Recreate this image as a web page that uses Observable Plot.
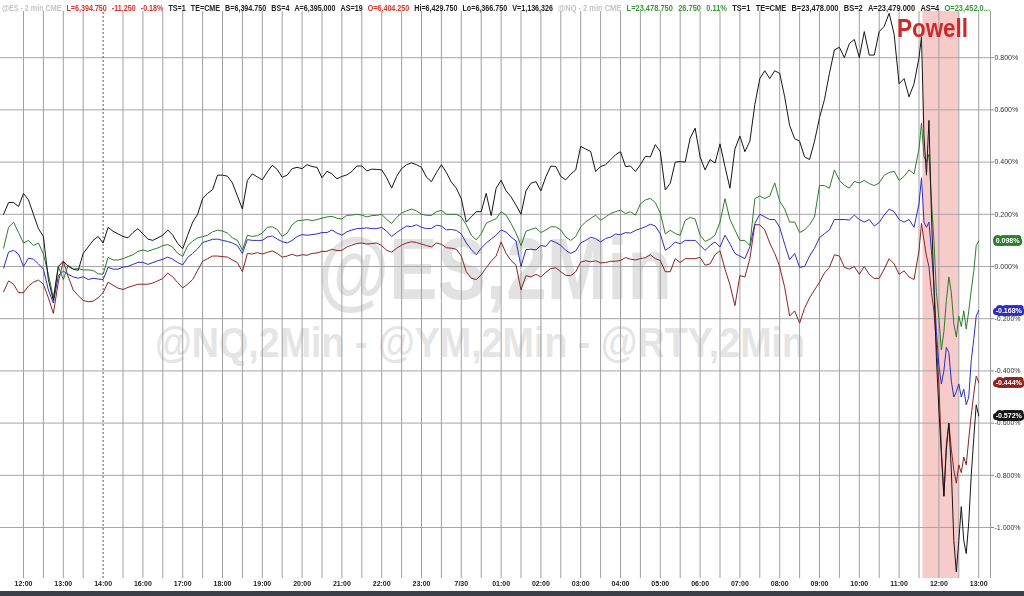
<!DOCTYPE html>
<html><head><meta charset="utf-8">
<script src="https://cdn.jsdelivr.net/npm/d3@7"></script>
<script src="https://cdn.jsdelivr.net/npm/@observablehq/plot@0.6"></script>
<style>
html,body{margin:0;padding:0;background:#fff;width:1024px;height:596px;overflow:hidden;font-family:Arial,"Liberation Sans",sans-serif}
#wrap{position:relative;width:1024px;height:596px;background:#fff}
#bg,#chart,#fg{position:absolute;left:0;top:0}
#chart{will-change:transform}
#hdr{position:absolute;left:0;top:0;width:1024px;height:11px;background:#fff}
#hdr .grp{position:absolute;top:1px;white-space:nowrap;transform-origin:0 0;line-height:9px}
#hdr span{display:inline-block;font-size:8.5px;font-weight:bold;margin-right:6px}
#band{position:absolute;left:0;top:591px;width:1024px;height:5px;background:#3b4047}
</style>
</head><body>
<div id="wrap">
<svg id="bg" width="1024" height="591" font-family="Arial, Liberation Sans, sans-serif" font-weight="bold">
  <text x="318" y="299" font-size="88" fill="#e2e2e2" textLength="354" lengthAdjust="spacingAndGlyphs">@ES,2Min</text>
  <text x="155" y="357" font-size="42" fill="#e5e5e5" textLength="650" lengthAdjust="spacingAndGlyphs">@NQ,2Min - @YM,2Min - @RTY,2Min</text>
</svg>
<div id="chart"></div>
<svg id="fg" width="1024" height="591" font-family="Arial, Liberation Sans, sans-serif" font-weight="bold" style="pointer-events:none">
  <text x="897" y="37" font-size="26" fill="#d0282a" textLength="71" lengthAdjust="spacingAndGlyphs">Powell</text>
</svg>
<div id="hdr"></div>
<div id="band"></div>
</div>
<script>
// ---- data ----
// x positions are session-hour indices (0 = first "12:00" label); 2-min bars sampled
const times = [...d3.range(-0.5, 22.5, 0.125), ...d3.range(22.5, 24.0001, 0.0625)];

const xLabels = ["12:00","13:00","14:00","16:00","17:00","18:00","19:00","20:00","21:00","22:00","23:00","7/30",
  "01:00","02:00","03:00","04:00","05:00","06:00","07:00","08:00","09:00","10:00","11:00","12:00","13:00"];
const yTicks = [-1.0,-0.8,-0.6,-0.4,-0.2,0,0.2,0.4,0.6,0.8];
const sessionBreak = 2;          // dashed line at 14:00
const powellWindow = {start: 22.6, end: 23.5};

const nqBlack = [
 0.20,0.245,0.245,0.23,0.28,0.255,0.2,0.145,0.115,-0.05,-0.13,0.0,0.02,0.0,-0.01,-0.015,0.05,0.075,0.1,0.115,
 0.09,0.15,0.135,0.125,0.115,0.11,0.13,0.145,0.125,0.105,0.1,0.11,0.12,0.14,0.12,0.088,0.068,0.12,0.17,0.2,
 0.26,0.28,0.294,0.35,0.35,0.346,0.32,0.27,
 0.22,0.33,0.355,0.343,0.332,0.362,0.388,0.372,0.342,0.35,0.375,0.38,0.375,0.39,0.383,0.38,0.34,0.365,0.355,0.336,
 0.345,0.351,0.364,0.385,0.385,0.366,0.373,0.372,0.37,0.34,0.3,0.345,0.375,0.39,0.397,0.39,0.38,0.342,0.325,0.36,
 0.39,0.36,0.323,0.3,0.26,0.17,0.19,0.21,0.21,0.28,0.195,0.3,
 0.33,0.29,0.267,0.235,0.2,0.29,0.319,0.325,0.29,0.344,0.385,0.383,0.345,0.332,0.354,0.37,0.46,0.45,0.441,0.364,
 0.383,0.39,0.409,0.428,0.44,0.383,0.385,0.364,0.39,0.422,0.42,0.467,0.44,0.293,0.319,0.4,0.402,0.4,0.492,0.53,
 0.42,0.37,0.41,0.396,0.47,0.383,0.3,0.45,
 0.5,0.44,0.48,0.62,0.72,0.75,0.72,0.75,0.74,0.65,0.54,0.49,0.48,0.42,0.41,0.48,0.57,0.64,0.74,0.83,
 0.84,0.8,0.854,0.87,0.8,0.9,0.81,0.81,0.9,0.92,0.97,0.89,0.7,0.72,0.65,0.7,
 0.8,0.88,0.5,0.35,0.56,0.2,-0.08,-0.35,-0.55,-0.72,-0.88,-0.7,-0.6,-0.78,-1.05,-1.17,-1.05,-0.92,-1.05,-1.1,
 -0.98,-0.8,-0.66,-0.53,-0.572];

const ymGreen = [
 0.07,0.15,0.17,0.13,0.09,0.1,0.08,0.09,0.048,-0.03,-0.12,0.0,-0.05,0.005,-0.01,-0.008,-0.013,-0.013,-0.015,-0.028,
 -0.03,0.035,0.025,0.025,0.03,0.038,0.045,0.058,0.063,0.058,0.065,0.071,0.08,0.084,0.074,0.05,0.039,0.08,0.097,0.11,
 0.114,0.12,0.133,0.139,0.136,0.128,0.11,0.1,
 0.063,0.12,0.115,0.118,0.128,0.15,0.152,0.142,0.115,0.128,0.16,0.175,0.177,0.18,0.176,0.18,0.185,0.19,0.192,0.185,
 0.182,0.196,0.197,0.2,0.197,0.19,0.195,0.196,0.2,0.18,0.165,0.188,0.205,0.213,0.22,0.213,0.2,0.196,0.196,0.21,
 0.215,0.2,0.2,0.2,0.19,0.16,0.12,0.102,0.125,0.165,0.175,0.183,
 0.21,0.197,0.165,0.128,0.08,0.135,0.142,0.148,0.13,0.14,0.152,0.152,0.14,0.113,0.1,0.115,0.152,0.171,0.184,0.197,
 0.177,0.19,0.203,0.21,0.216,0.203,0.21,0.197,0.24,0.255,0.261,0.245,0.205,0.125,0.139,0.126,0.12,0.177,0.188,0.182,
 0.12,0.096,0.105,0.12,0.17,0.26,0.18,0.14,
 0.1,0.1,0.08,0.26,0.27,0.26,0.27,0.32,0.25,0.22,0.17,0.17,0.13,0.14,0.16,0.19,0.31,0.31,0.3,0.37,
 0.33,0.311,0.3,0.326,0.32,0.33,0.318,0.31,0.32,0.35,0.36,0.365,0.33,0.345,0.37,0.355,
 0.45,0.55,0.42,0.4,0.43,0.25,0.1,-0.1,-0.2,-0.32,-0.25,-0.13,-0.04,-0.1,-0.22,-0.27,-0.19,-0.23,-0.17,-0.24,
 -0.17,-0.09,-0.02,0.08,0.098];

const esBlue = [
 -0.006,0.055,0.062,0.048,0.0,0.032,0.028,0.01,-0.01,-0.09,-0.14,-0.035,-0.018,-0.03,-0.04,-0.045,-0.039,-0.05,-0.045,-0.048,
 -0.05,-0.003,-0.01,-0.01,-0.002,0.0,0.008,0.016,0.016,0.008,0.015,0.022,0.028,0.036,0.028,0.015,0.006,0.035,0.05,0.068,
 0.092,0.098,0.104,0.105,0.1,0.096,0.09,0.08,
 0.05,0.103,0.1,0.1,0.1,0.113,0.117,0.105,0.095,0.09,0.1,0.115,0.122,0.12,0.122,0.125,0.13,0.13,0.14,0.128,
 0.12,0.133,0.14,0.145,0.146,0.148,0.145,0.145,0.15,0.135,0.115,0.13,0.143,0.155,0.153,0.16,0.15,0.145,0.146,0.158,
 0.155,0.14,0.142,0.138,0.125,0.09,0.065,0.045,0.07,0.09,0.105,0.12,
 0.14,0.132,0.113,0.098,0.0,0.065,0.066,0.064,0.08,0.077,0.1,0.092,0.081,0.062,0.05,0.06,0.09,0.1,0.112,0.107,
 0.094,0.107,0.113,0.124,0.122,0.13,0.128,0.138,0.145,0.152,0.162,0.155,0.125,0.062,0.075,0.094,0.087,0.1,0.1,0.1,
 0.081,0.062,0.08,0.094,0.075,0.12,0.087,0.05,
 0.04,0.03,0.075,0.165,0.2,0.19,0.18,0.18,0.15,0.085,0.026,0.05,-0.003,0.0,0.04,0.07,0.11,0.126,0.14,0.18,
 0.18,0.18,0.178,0.197,0.18,0.17,0.18,0.155,0.169,0.197,0.22,0.21,0.18,0.17,0.18,0.15,
 0.24,0.34,0.17,0.15,0.17,0.06,-0.07,-0.25,-0.38,-0.45,-0.4,-0.31,-0.33,-0.44,-0.5,-0.48,-0.45,-0.5,-0.47,-0.53,
 -0.5,-0.36,-0.28,-0.19,-0.168];

const rtyBrown = [
 -0.097,-0.055,-0.068,-0.1,-0.1,-0.075,-0.06,-0.052,-0.068,-0.12,-0.18,-0.06,0.02,-0.04,-0.09,-0.112,-0.13,-0.135,-0.133,-0.12,
 -0.1,-0.06,-0.072,-0.083,-0.088,-0.08,-0.074,-0.068,-0.068,-0.068,-0.063,-0.055,-0.046,-0.025,-0.04,-0.062,-0.082,-0.068,-0.05,-0.015,
 0.02,0.03,0.04,0.04,0.038,0.036,0.025,0.015,
 -0.02,0.05,0.048,0.053,0.048,0.054,0.06,0.05,0.036,0.04,0.047,0.04,0.045,0.043,0.05,0.052,0.058,0.058,0.066,0.061,
 0.062,0.075,0.082,0.088,0.09,0.086,0.088,0.09,0.08,0.062,0.055,0.07,0.082,0.09,0.095,0.092,0.086,0.08,0.075,0.09,
 0.085,0.072,0.07,0.066,0.04,-0.02,-0.045,-0.05,-0.032,-0.005,0.02,0.04,
 0.094,0.05,0.023,0.005,-0.09,-0.035,-0.04,-0.03,-0.04,-0.022,-0.008,-0.005,-0.02,-0.034,-0.035,-0.02,0.017,0.022,0.018,0.022,
 0.014,0.015,0.02,0.02,0.023,0.034,0.028,0.025,0.03,0.034,0.045,0.03,0.023,-0.02,-0.02,0.03,0.015,0.03,0.03,0.03,
 0.035,0.005,0.01,0.045,0.06,-0.01,-0.07,-0.15,
 -0.035,-0.04,0.03,0.16,0.16,0.14,0.09,0.05,0.0,-0.08,-0.19,-0.17,-0.217,-0.16,-0.12,-0.09,-0.06,-0.025,-0.003,0.045,
 0.04,-0.003,-0.01,0.0,-0.03,0.0,-0.03,-0.046,-0.045,-0.01,0.03,0.01,-0.03,-0.017,-0.04,-0.05,
 0.06,0.165,0.1,0.04,0.0,-0.1,-0.17,-0.3,-0.45,-0.7,-0.88,-0.68,-0.6,-0.7,-0.78,-0.83,-0.76,-0.79,-0.73,-0.76,
 -0.66,-0.57,-0.49,-0.42,-0.444];

const seriesNames  = ["RTY", "ES", "YM", "NQ"];
const seriesColors = ["#8c2222", "#2d2dc2", "#2b7d2b", "#161616"];
const seriesValues = [rtyBrown, esBlue, ymGreen, nqBlack];

const headerES = [
 ["@ES - 2 min  CME", "#c4c4c4"], ["L=6,394.750", "#d6342c"], ["-11.250", "#d6342c"], ["-0.18%", "#d6342c"],
 ["TS=1", "#222"], ["TE=CME", "#222"], ["B=6,394.750", "#222"], ["BS=4", "#222"],
 ["A=6,395.000", "#222"], ["AS=19", "#222"], ["O=6,404.250", "#d6342c"], ["Hi=6,429.750", "#222"],
 ["Lo=6,366.750", "#222"], ["V=1,136,326", "#222"]];
const headerNQ = [
 ["@NQ - 2 min  CME", "#c4c4c4"], ["L=23,478.750", "#3a963a"], ["26.750", "#3a963a"], ["0.11%", "#3a963a"],
 ["TS=1", "#222"], ["TE=CME", "#222"], ["B=23,478.000", "#222"], ["BS=2", "#222"], ["A=23,479.000", "#222"],
 ["AS=4", "#222"], ["O=23,452.0...", "#3a963a"]];

// ---- header ----
const hdr = document.getElementById("hdr");
function headerGroup(items, left, right) {
  const g = document.createElement("div");
  g.className = "grp"; g.style.left = left + "px";
  for (const [t, c] of items) {
    const s = document.createElement("span");
    s.textContent = t; s.style.color = c;
    g.appendChild(s);
  }
  g.lastChild.style.marginRight = "0";
  hdr.appendChild(g);
  const w = g.getBoundingClientRect().width;
  g.style.transform = `scaleX(${(right - left) / w})`;
}
headerGroup(headerES, 2, 553);
headerGroup(headerNQ, 558, 990);

// ---- chart ----
const xDomain = [-23/39.8, 967/39.8];
const yDomain = [-312/261, 266/261];
const gridX = d3.range(0, 24.01, 0.5).filter(d => d !== sessionBreak);
const tickX = d3.range(0, xLabels.length);

const series = seriesNames.map((name, k) => ({
  name, color: seriesColors[k],
  rows: times.map((t, i) => ({t, v: seriesValues[k][i]}))
}));

const marks = [
  Plot.rect([powellWindow], {x1: "start", x2: "end", fill: "#f8cbcb"}),
  Plot.ruleY(yTicks, {stroke: "#a6a6a6", strokeWidth: 1}),
  Plot.ruleX(gridX, {stroke: "#a0a0a0", strokeWidth: 1}),
  Plot.ruleX([sessionBreak], {stroke: "#555", strokeDasharray: "2,2"}),
  Plot.ruleX([xDomain[1]], {stroke: "#999"}),
  Plot.axisY({anchor: "right", ticks: yTicks, tickFormat: d => d.toFixed(3) + "%", tickSize: 3, tickPadding: 1,
              fontSize: 7, label: null, stroke: "#888", fill: "#333"}),
  Plot.axisX({anchor: "bottom", ticks: tickX, tickFormat: d => xLabels[Math.round(d)], tickSize: 0, tickPadding: 3,
              fontSize: 7, fontWeight: "bold", label: null, fill: "#222"}),
];
for (const s of series) {
  marks.push(Plot.line(s.rows, {x: "t", y: "v", stroke: s.color, strokeWidth: 1}));
}
for (const s of [...series].reverse()) {
  const last = s.rows[s.rows.length - 1];
  marks.push(Plot.text([last], {x: "t", y: "v", text: d => d.v.toFixed(3) + "%", fill: "white",
    stroke: s.color, strokeWidth: 6, strokeLinejoin: "round", fontSize: 7, fontWeight: "bold",
    textAnchor: "start", dx: 17}));
}

const chart = Plot.plot({
  width: 1024, height: 591,
  marginLeft: 0, marginRight: 34, marginTop: 0, marginBottom: 13,
  style: {background: "transparent", fontFamily: "Arial, Liberation Sans, sans-serif", overflow: "visible"},
  x: {domain: xDomain, axis: null},
  y: {domain: yDomain, axis: null},
  marks
});
document.getElementById("chart").appendChild(chart);
</script>
</body></html>
